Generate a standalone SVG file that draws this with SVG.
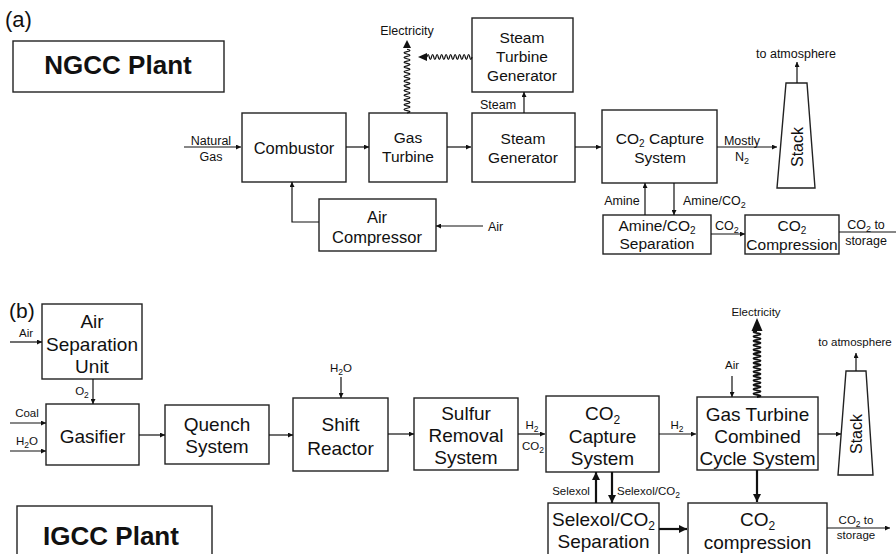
<svg xmlns="http://www.w3.org/2000/svg" width="896" height="554" viewBox="0 0 896 554">
<style>
text{font-family:"Liberation Sans",Arial,sans-serif;fill:#111}
.box{fill:#fff;stroke:#222;stroke-width:1.4}
.t{font-size:15.5px;text-anchor:middle}
.tc{font-size:16.5px;text-anchor:middle}
.tb{font-size:19px;text-anchor:middle}
.s{font-size:12.5px}
.sb{font-size:11.5px}
.m{text-anchor:middle}
.ttl{font-size:26px;font-weight:bold;text-anchor:middle}
.ln{fill:none;stroke:#111;stroke-width:1.2}
.lnb{fill:none;stroke:#111;stroke-width:2.2}
</style>
<defs>
<marker id="a" viewBox="0 0 10 10" refX="10" refY="5" markerWidth="6" markerHeight="5" markerUnits="userSpaceOnUse" orient="auto"><path d="M0,0L10,5L0,10z" fill="#111"/></marker>
<marker id="b" viewBox="0 0 10 10" refX="10" refY="5" markerWidth="9" markerHeight="8" markerUnits="userSpaceOnUse" orient="auto"><path d="M0,0L10,5L0,10z" fill="#111"/></marker>
</defs>
<rect width="896" height="554" fill="#fff"/>

<!-- Part (a) -->
<text x="5" y="27" style="font-size:22px">(a)</text>
<g id="ngcc-title"><rect class="box" x="13" y="41" width="211" height="51"/><text class="ttl" x="118" y="74">NGCC Plant</text></g>
<g id="combustor"><rect class="box" x="242" y="113" width="104" height="69"/><text class="tc" x="294" y="154">Combustor</text></g>
<g id="gas-turbine"><rect class="box" x="369" y="113" width="78" height="69"/><text class="t" x="408" y="143">Gas</text><text class="t" x="408" y="162">Turbine</text></g>
<g id="steam-generator"><rect class="box" x="472" y="113" width="103" height="69"/><text class="t" x="523" y="144">Steam</text><text class="t" x="523" y="163">Generator</text></g>
<g id="steam-turbine-generator"><rect class="box" x="472" y="18" width="101" height="74"/><text class="t" x="522" y="43">Steam</text><text class="t" x="522" y="62">Turbine</text><text class="t" x="522" y="81">Generator</text></g>
<g id="air-compressor"><rect class="box" x="319" y="199" width="117" height="52"/><text class="tc" x="377" y="223">Air</text><text class="tc" x="377" y="243">Compressor</text></g>
<g id="co2-capture-a"><rect class="box" x="602" y="110" width="115" height="73"/><text class="t" x="660" y="144">CO<tspan font-size="10px" dy="3">2</tspan><tspan dy="-3"> Capture</tspan></text><text class="t" x="660" y="163">System</text></g>
<g id="stack-a"><polygon class="box" points="786,83 807,83 815,188 777,188"/><text class="t" transform="translate(803,147) rotate(-90)" style="font-size:16px">Stack</text></g>
<g id="amine-separation"><rect class="box" x="603" y="215" width="108" height="39"/><text class="t" x="657" y="231">Amine/CO<tspan font-size="10px" dy="2.5">2</tspan></text><text class="t" x="657" y="249">Separation</text></g>
<g id="co2-compression-a"><rect class="box" x="745" y="215" width="94" height="39"/><text class="t" x="792" y="231">CO<tspan font-size="10px" dy="2.5">2</tspan></text><text class="t" x="792" y="250">Compression</text></g>

<!-- Part (b) -->
<text x="9" y="318" style="font-size:21px">(b)</text>
<g id="asu"><rect class="box" x="42" y="304" width="100" height="75"/><text class="tb" x="92" y="328">Air</text><text class="tb" x="92" y="350.5">Separation</text><text class="tb" x="92" y="373">Unit</text></g>
<g id="gasifier"><rect class="box" x="46" y="404" width="93" height="61"/><text class="tb" x="92.5" y="443">Gasifier</text></g>
<g id="quench"><rect class="box" x="165" y="405" width="104" height="59"/><text class="tb" x="217" y="431">Quench</text><text class="tb" x="217" y="453">System</text></g>
<g id="shift"><rect class="box" x="293" y="398" width="95" height="73"/><text class="tb" x="340.5" y="431">Shift</text><text class="tb" x="340.5" y="455">Reactor</text></g>
<g id="sulfur"><rect class="box" x="414" y="398" width="104" height="72"/><text class="tb" x="466" y="420">Sulfur</text><text class="tb" x="466" y="442">Removal</text><text class="tb" x="466" y="464">System</text></g>
<g id="co2-capture-b"><rect class="box" x="546" y="396" width="113" height="76"/><text class="tb" x="602.5" y="420">CO<tspan font-size="12px" dy="3.5">2</tspan></text><text class="tb" x="602.5" y="443">Capture</text><text class="tb" x="602.5" y="465">System</text></g>
<g id="gtcc"><rect class="box" x="697" y="397" width="121" height="73"/><text class="tb" x="757.5" y="421">Gas Turbine</text><text class="tb" x="757.5" y="443">Combined</text><text class="tb" x="757.5" y="465">Cycle System</text></g>
<g id="stack-b"><polygon class="box" points="846,371 866,371 873,475 838,475"/><text class="t" transform="translate(862,434) rotate(-90)" style="font-size:16px">Stack</text></g>
<g id="selexol-separation"><rect class="box" x="548" y="503" width="111" height="60"/><text class="tb" x="603.5" y="526">Selexol/CO<tspan font-size="12px" dy="3.5">2</tspan></text><text class="tb" x="603.5" y="548">Separation</text></g>
<g id="co2-compression-b"><rect class="box" x="688" y="503" width="139" height="60"/><text class="tb" x="757.5" y="526">CO<tspan font-size="12px" dy="3.5">2</tspan></text><text class="tb" x="757.5" y="549">compression</text></g>
<g id="igcc-title"><rect class="box" x="17" y="506" width="195" height="60"/><text class="ttl" x="111" y="545">IGCC Plant</text></g>

<g id="connectors">
<!-- (a) -->
<path class="ln" d="M184,147H241" marker-end="url(#a)"/>
<path class="ln" d="M346,147H369" marker-end="url(#a)"/>
<path class="ln" d="M447,147H471" marker-end="url(#a)"/>
<path class="ln" d="M575,147H601" marker-end="url(#a)"/>
<path class="ln" d="M524,113V92" marker-end="url(#a)"/>
<path class="ln" d="M319,222H292V182" marker-end="url(#a)"/>
<path class="ln" d="M483,226H436" marker-end="url(#a)"/>
<path class="ln" d="M717,147H777" marker-end="url(#a)"/>
<path class="ln" d="M797,83V62" marker-end="url(#a)"/>
<path class="ln" d="M645,215V183" marker-end="url(#a)"/>
<path class="ln" d="M674,183V215" marker-end="url(#a)"/>
<path class="ln" d="M711,234H745" marker-end="url(#a)"/>
<path class="ln" d="M839,232H896"/>
<path class="ln" d="M407,113q6,-1.18 0,-2.36t0,-2.36t0,-2.36t0,-2.36t0,-2.36t0,-2.36t0,-2.36t0,-2.36t0,-2.36t0,-2.36t0,-2.36t0,-2.36t0,-2.36t0,-2.36t0,-2.36t0,-2.36t0,-2.36t0,-2.36t0,-2.36t0,-2.36t0,-2.36t0,-2.36t0,-2.36t0,-2.36t0,-2.36t0,-2.36t0,-2.36"/>
<polygon points="407,40 403,48 411,48" fill="#111"/>
<path class="ln" d="M472,57q-1.125,5 -2.25,0t-2.25,0t-2.25,0t-2.25,0t-2.25,0t-2.25,0t-2.25,0t-2.25,0t-2.25,0t-2.25,0t-2.25,0t-2.25,0t-2.25,0t-2.25,0t-2.25,0t-2.25,0t-2.25,0t-2.25,0t-2.25,0t-2.25,0"/>
<polygon points="418,57 427,53 427,61" fill="#111"/>
<!-- (b) -->
<path class="ln" d="M10,342H42" marker-end="url(#a)"/>
<path class="ln" d="M93,379V404" marker-end="url(#a)"/>
<path class="ln" d="M10,423H46" marker-end="url(#a)"/>
<path class="ln" d="M10,451H46" marker-end="url(#a)"/>
<path class="ln" d="M139,435H165" marker-end="url(#a)"/>
<path class="ln" d="M269,435H293" marker-end="url(#a)"/>
<path class="ln" d="M341,377V398" marker-end="url(#a)"/>
<path class="ln" d="M388,434H414" marker-end="url(#a)"/>
<path class="ln" d="M518,434H545" marker-end="url(#a)"/>
<path class="ln" d="M659,434H696" marker-end="url(#a)"/>
<path class="ln" d="M732,376V397" marker-end="url(#a)"/>
<path class="ln" d="M818,434H841" marker-end="url(#a)"/>
<path class="ln" d="M856,371V353" marker-end="url(#a)"/>
<path class="lnb" d="M757,470V502" marker-end="url(#b)"/>
<path class="lnb" d="M596,503V472" marker-end="url(#b)"/>
<path class="lnb" d="M612,472V503" marker-end="url(#b)"/>
<path class="lnb" d="M659,529H687" marker-end="url(#b)"/>
<path class="ln" d="M827,528H890" marker-end="url(#a)"/>
<path class="lnb" d="M757,397q7,-1.1 0,-2.2t0,-2.2t0,-2.2t0,-2.2t0,-2.2t0,-2.2t0,-2.2t0,-2.2t0,-2.2t0,-2.2t0,-2.2t0,-2.2t0,-2.2t0,-2.2t0,-2.2t0,-2.2t0,-2.2t0,-2.2t0,-2.2t0,-2.2t0,-2.2t0,-2.2t0,-2.2t0,-2.2t0,-2.2t0,-2.2t0,-2.2t0,-2.2t0,-2.2t0,-2.2" style="stroke-width:1.8"/>
<polygon points="757,318 751.5,331 762.5,331" fill="#111"/>
</g>

<g id="labels">
<!-- (a) -->
<text class="s m" x="211" y="145">Natural</text>
<text class="s m" x="211" y="161">Gas</text>
<text class="s m" x="407" y="35">Electricity</text>
<text class="s m" x="498" y="109">Steam</text>
<text class="s" x="488" y="231">Air</text>
<text class="s m" x="742" y="145">Mostly</text>
<text class="s m" x="742" y="161">N<tspan font-size="9px" dy="3">2</tspan></text>
<text class="s m" x="796" y="58">to atmosphere</text>
<text class="s m" x="622" y="205">Amine</text>
<text class="s" x="683" y="205">Amine/CO<tspan font-size="9px" dy="3">2</tspan></text>
<text class="s" x="715" y="230">CO<tspan font-size="9px" dy="3">2</tspan></text>
<text class="s m" x="866" y="229">CO<tspan font-size="9px" dy="2.5">2</tspan><tspan dy="-2.5"> to</tspan></text>
<text class="s m" x="866" y="245">storage</text>
<!-- (b) -->
<text class="sb m" x="26" y="337">Air</text>
<text class="sb m" x="82" y="395">O<tspan font-size="8.5px" dy="3">2</tspan></text>
<text class="sb m" x="27" y="417">Coal</text>
<text class="sb m" x="27" y="445">H<tspan font-size="8.5px" dy="3">2</tspan><tspan dy="-3">O</tspan></text>
<text class="sb m" x="341" y="372">H<tspan font-size="8.5px" dy="3">2</tspan><tspan dy="-3">O</tspan></text>
<text class="sb m" x="532" y="429">H<tspan font-size="8.5px" dy="3">2</tspan></text>
<text class="sb m" x="533" y="450">CO<tspan font-size="8.5px" dy="3">2</tspan></text>
<text class="sb m" x="677" y="429">H<tspan font-size="8.5px" dy="3">2</tspan></text>
<text class="sb m" x="732" y="369">Air</text>
<text class="sb m" x="756" y="316">Electricity</text>
<text class="sb m" x="855" y="346">to atmosphere</text>
<text class="sb m" x="571" y="495">Selexol</text>
<text class="sb" x="617" y="495">Selexol/CO<tspan font-size="8.5px" dy="3">2</tspan></text>
<text class="sb m" x="856" y="524">CO<tspan font-size="8.5px" dy="2.5">2</tspan><tspan dy="-2.5"> to</tspan></text>
<text class="sb m" x="856" y="539">storage</text>
</g>
</svg>
